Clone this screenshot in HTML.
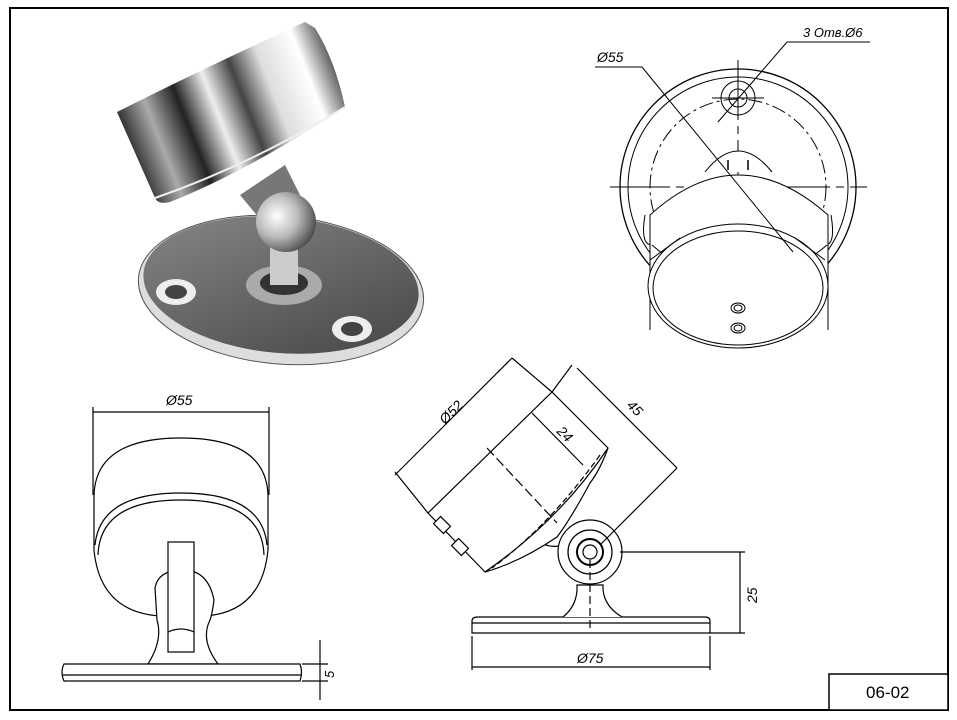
<!DOCTYPE html>
<html><head><meta charset="utf-8"><style>
html,body{margin:0;padding:0;background:#fff}
svg{display:block}
text{font-family:"Liberation Sans",sans-serif;font-style:italic;fill:#000}
</style></head><body>
<svg width="957" height="720" viewBox="0 0 957 720" xmlns="http://www.w3.org/2000/svg">
<defs>
<linearGradient id="chrome" x1="117" y1="112" x2="345" y2="22" gradientUnits="userSpaceOnUse">
<stop offset="0" stop-color="#333"/><stop offset="0.12" stop-color="#aaa"/><stop offset="0.25" stop-color="#222"/>
<stop offset="0.38" stop-color="#eee"/><stop offset="0.5" stop-color="#444"/><stop offset="0.62" stop-color="#ddd"/><stop offset="0.78" stop-color="#fff"/><stop offset="0.9" stop-color="#555"/><stop offset="1" stop-color="#222"/>
</linearGradient>
<linearGradient id="plate" x1="0" x2="1" y1="0" y2="1">
<stop offset="0" stop-color="#888"/><stop offset="0.5" stop-color="#666"/><stop offset="1" stop-color="#444"/>
</linearGradient>
<radialGradient id="ball" cx="0.35" cy="0.4" r="0.7">
<stop offset="0" stop-color="#fff"/><stop offset="0.5" stop-color="#bbb"/><stop offset="1" stop-color="#444"/>
</radialGradient>
</defs>
<rect x="10" y="8" width="938" height="702" fill="#fff" stroke="#000" stroke-width="2"/>
<rect x="829" y="674" width="119" height="36" fill="#fff" stroke="#000" stroke-width="1.5"/>
<text x="866" y="698" font-size="17" style="font-style:normal">06-02</text>

<!-- 3D render -->
<g>
<ellipse cx="281" cy="290" rx="143" ry="74" transform="rotate(5 281 290)" fill="#ddd" stroke="#555"/>
<ellipse cx="281" cy="285" rx="138" ry="68" transform="rotate(5 281 285)" fill="url(#plate)"/>
<ellipse cx="176" cy="292" rx="20" ry="13" fill="#eee"/><ellipse cx="176" cy="292" rx="11" ry="7" fill="#444"/>
<ellipse cx="352" cy="329" rx="20" ry="13" fill="#eee"/><ellipse cx="352" cy="329" rx="11" ry="7" fill="#444"/>
<ellipse cx="284" cy="285" rx="38" ry="20" fill="#aaa"/>
<ellipse cx="284" cy="283" rx="24" ry="12" fill="#333"/>
<rect x="270" y="245" width="28" height="40" fill="#ccc"/>
<path d="M240 195 L285 165 L300 195 L265 225 Z" fill="#777"/>
<circle cx="286" cy="222" r="30" fill="url(#ball)"/>
<path d="M117 112 Q200 70 305 22 L315 28 Q335 60 345 107 Q250 170 170 202 Q158 205 155 198 Z" fill="url(#chrome)"/>
<path d="M155 198 Q250 165 345 107" fill="none" stroke="#eee" stroke-width="2"/>
</g>

<!-- top-right view -->
<g fill="none" stroke="#000" stroke-width="1">
<circle cx="738" cy="187" r="118" stroke-width="1.3"/>
<circle cx="738" cy="187" r="110"/>
<circle cx="738" cy="187" r="88" stroke-dasharray="14 4 3 4"/>
<circle cx="738" cy="98" r="17"/><circle cx="738" cy="98" r="9"/>
<line x1="712" y1="98" x2="764" y2="98"/>
<line x1="610" y1="187" x2="867" y2="187" stroke-dasharray="60 6 8 6"/>
<line x1="738" y1="60" x2="738" y2="310" stroke-dasharray="60 6 8 6"/>
<path d="M705 172 Q738 130 772 172" fill="#fff"/>
<path d="M728 160 L728 170 M748 160 L748 170" stroke-width="1.5"/>
<path d="M645 215 Q640 245 652 245 M831 215 Q836 245 825 245"/>
<path d="M650 330 L650 215 Q738 135 828 215 L828 330" fill="#fff"/>
<path d="M652 245 Q738 320 827 245"/>
<ellipse cx="738" cy="286" rx="90" ry="62" fill="#fff"/>
<ellipse cx="738" cy="288" rx="85" ry="57"/>
<path d="M650 260 L680 238 M795 238 L825 260"/>
<ellipse cx="738" cy="308" rx="7" ry="5"/><ellipse cx="738" cy="308" rx="4" ry="3"/>
<ellipse cx="738" cy="328" rx="7" ry="5"/><ellipse cx="738" cy="328" rx="4" ry="3"/>
<line x1="595" y1="67" x2="642" y2="67"/>
<line x1="642" y1="67" x2="793" y2="252"/>
<line x1="718" y1="122" x2="787" y2="42"/><line x1="787" y1="42" x2="870" y2="42"/>
</g>
<text x="597" y="62" font-size="14">Ø55</text>
<text x="803" y="37" font-size="13">3 Отв.Ø6</text>

<!-- bottom-left front view -->
<g fill="none" stroke="#000" stroke-width="1.2">
<line x1="93" y1="412" x2="269" y2="412"/>
<line x1="93" y1="407" x2="93" y2="495"/><line x1="269" y1="407" x2="269" y2="495"/>
<path d="M94 495 Q96 438 181 438 Q266 438 268 495 L268 550 Q262 612 205 616 L160 616 Q100 612 94 550 Z" fill="#fff"/>
<path d="M95 545 Q100 493 181 493 Q262 493 267 545"/>
<path d="M98 555 Q100 500 181 500 Q262 500 264 555"/>
<path d="M155 588 Q158 570 183 570 Q208 570 214 600 Q212 615 210 620 Q200 640 218 664 L148 664 Q163 640 157 620 Z" fill="#fff"/>
<rect x="168" y="542" width="26" height="110" fill="#fff"/>
<path d="M168 632 Q181 626 194 632"/>
<path d="M64 664 L300 664 Q303 672 300 681 L64 681 Q60 672 64 664 Z" fill="#fff"/>
<line x1="62" y1="675" x2="302" y2="675"/>
<line x1="302" y1="664" x2="328" y2="664"/><line x1="302" y1="681" x2="328" y2="681"/>
<line x1="320" y1="640" x2="320" y2="700"/>
</g>
<text x="166" y="405" font-size="14">Ø55</text>
<text x="334" y="678" font-size="13" transform="rotate(-90 334 678)">5</text>

<!-- bottom-middle side view -->
<g fill="none" stroke="#000" stroke-width="1.2">
<path d="M472 621 Q472 617 478 617 L705 617 Q710 617 710 621 L710 633 L472 633 Z" fill="#fff"/>
<line x1="472" y1="623" x2="710" y2="623"/>
<path d="M563 617 Q578 605 577 585 L603 585 Q602 605 622 617" fill="#fff"/>
<path d="M535 540 Q560 555 572 535 M572 515 Q565 500 575 495" />
<circle cx="590" cy="552" r="32" fill="#fff"/>
<circle cx="590" cy="552" r="22"/>
<circle cx="590" cy="552" r="13" stroke-width="2"/><circle cx="590" cy="552" r="7"/>
<path d="M428 513 L552 392 L608 448 Q600 470 590 483 Q570 520 557 537 Q520 562 485 572 Z" fill="#fff"/>
<path d="M608 448 Q560 520 485 572"/>
<path d="M600 455 Q550 525 492 568" stroke-dasharray="6 3"/>
<path d="M487 448 L557 523" stroke-dasharray="10 4"/>
<line x1="590" y1="560" x2="590" y2="630" stroke-dasharray="8 4"/>
<rect x="437" y="518" width="10" height="14" transform="rotate(-45 442 525)" fill="#fff"/>
<rect x="455" y="540" width="10" height="14" transform="rotate(-45 460 547)" fill="#fff"/>
<line x1="395" y1="475" x2="512" y2="358"/>
<line x1="395" y1="472" x2="428" y2="513"/>
<line x1="512" y1="358" x2="552" y2="392"/>
<line x1="577" y1="368" x2="677" y2="468"/>
<line x1="572" y1="365" x2="552" y2="392"/>
<line x1="677" y1="468" x2="600" y2="545"/>
<line x1="532" y1="413" x2="583" y2="465"/>
<line x1="620" y1="552" x2="745" y2="552"/>
<line x1="710" y1="633" x2="745" y2="633"/>
<line x1="740" y1="552" x2="740" y2="633"/>
<line x1="472" y1="636" x2="472" y2="670"/><line x1="710" y1="636" x2="710" y2="670"/>
<line x1="472" y1="667" x2="710" y2="667"/>
</g>
<text x="445" y="425" font-size="14" transform="rotate(-45 445 425)">Ø52</text>
<text x="556" y="432" font-size="14" transform="rotate(45 556 432)">24</text>
<text x="626" y="406" font-size="14" transform="rotate(45 626 406)">45</text>
<text x="757" y="603" font-size="14" transform="rotate(-90 757 603)">25</text>
<text x="577" y="663" font-size="14">Ø75</text>
</svg>
</body></html>
